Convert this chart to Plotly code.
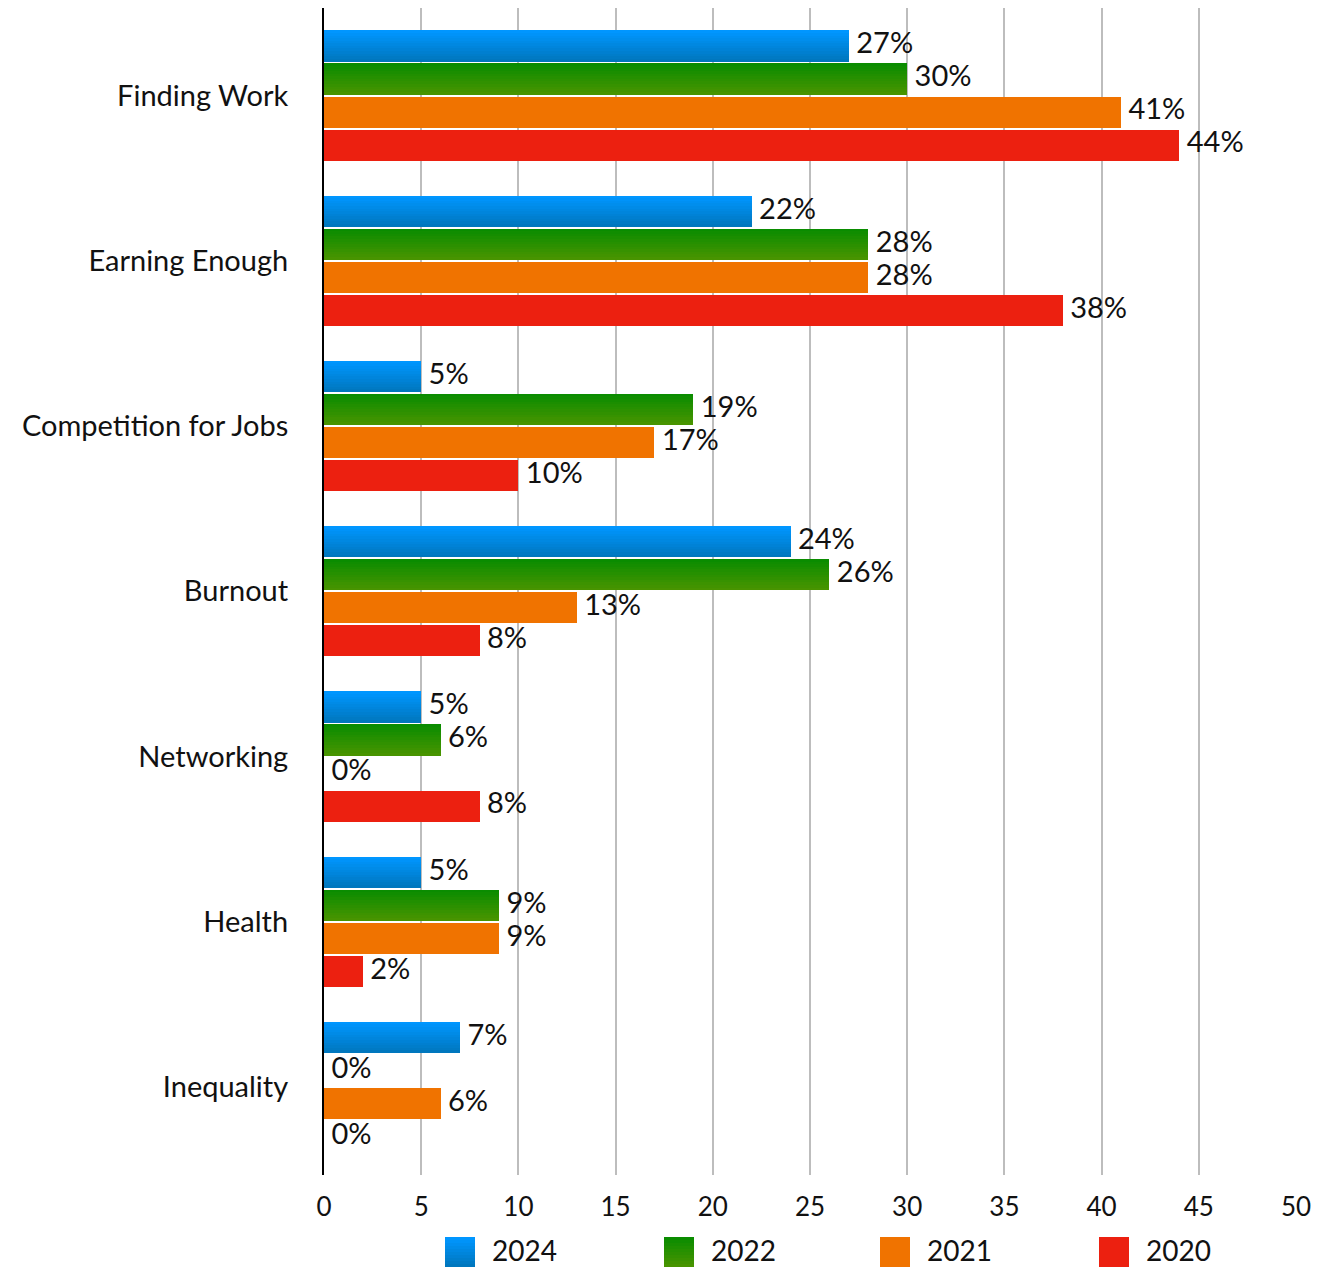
import plotly.graph_objects as go

# Survey data: share of respondents naming each challenge, by survey year
categories = ["Finding Work", "Earning Enough", "Competition for Jobs", "Burnout",
              "Networking", "Health", "Inequality"]
years = ["2024", "2022", "2021", "2020"]
values_2024 = [27, 22, 5, 24, 5, 5, 7]
values_2022 = [30, 28, 19, 26, 6, 9, 0]
values_2021 = [41, 28, 17, 13, 0, 9, 6]
values_2020 = [44, 38, 10, 8, 8, 2, 0]
x_ticks = [0, 5, 10, 15, 20, 25, 30, 35, 40, 45, 50]

series = [values_2024, values_2022, values_2021, values_2020]
# (top colour, bottom colour) for each series; equal pairs give a flat fill
fills = [
    ((0, 150, 255), (0, 119, 190)),
    ((10, 140, 0), (72, 148, 0)),
    ((240, 115, 0), (240, 115, 0)),
    ((236, 32, 16), (236, 32, 16)),
]

FONT = "Lato, 'Noto Sans', sans-serif"
PITCH = 0.1997        # distance between bar centres within a group (category units)
BAR_W = 0.1876        # bar thickness (category units)
SLICES = 12           # horizontal bands used to shade the gradient bars

# plot area in pixels
W, H = 1320, 1268
L, R, T, B = 324, 24, 8, 93
PW, PH = W - L - R, H - T - B


def mix(c0, c1, t):
    return "rgb(%d,%d,%d)" % tuple(round(a + (b - a) * t) for a, b in zip(c0, c1))


fig = go.Figure()
ypos = list(range(len(categories)))

for si, (vals, (top, bot)) in enumerate(zip(series, fills)):
    offset = (si - 1.5) * PITCH
    flat = top == bot
    n = 1 if flat else SLICES
    sw = BAR_W / n
    for k in range(n):
        # k = 0 is the top band (y axis is reversed, so smaller y is higher)
        yc = [y + offset - BAR_W / 2 + sw * (k + 0.5) for y in ypos]
        fig.add_trace(go.Bar(
            x=vals, y=yc, orientation="h",
            width=sw * (1.0 if flat else 1.08),
            marker=dict(color=mix(top, bot, k / max(n - 1, 1)), line=dict(width=0)),
            showlegend=False, hoverinfo="skip",
        ))
    # value labels just past the end of each bar
    fig.add_trace(go.Scatter(
        x=vals, y=[y + offset for y in ypos], mode="text",
        text=[" %d%%" % v for v in vals], textposition="middle right",
        textfont=dict(family=FONT, size=29, color="#111111"),
        cliponaxis=False, showlegend=False, hoverinfo="skip",
    ))

# legend drawn below the axis: gradient swatch + year label
shapes, annotations = [], []
leg_left = [445, 664, 880, 1099]
sw_px, leg_y = 30, 1237
for (top, bot), year, lx in zip(fills, years, leg_left):
    nb = 10
    for k in range(nb):
        y0 = leg_y + sw_px * k / nb
        y1 = leg_y + sw_px * (k + 1) / nb + (0.6 if k < nb - 1 else 0)
        shapes.append(dict(
            type="rect", xref="paper", yref="paper",
            x0=(lx - L) / PW, x1=(lx + sw_px - L) / PW,
            y0=(H - B - y0) / PH, y1=(H - B - y1) / PH,
            fillcolor=mix(top, bot, k / (nb - 1)), line=dict(width=0), layer="above",
        ))
    annotations.append(dict(
        xref="paper", yref="paper", x=(lx + sw_px + 16 - L) / PW,
        y=(H - B - (leg_y + sw_px / 2 - 2)) / PH, text=year, showarrow=False,
        xanchor="left", yanchor="middle", borderpad=0,
        font=dict(family=FONT, size=28, color="#111111"),
    ))

fig.update_layout(
    width=W, height=H, barmode="overlay", bargap=0,
    margin=dict(l=L, r=R, t=T, b=B, pad=0),
    plot_bgcolor="white", paper_bgcolor="white",
    showlegend=False, shapes=shapes, annotations=annotations,
    xaxis=dict(
        range=[0, 50], tickvals=x_ticks, ticktext=[str(v) for v in x_ticks],
        showgrid=True, gridcolor="#bdbdbd", gridwidth=1.5, zeroline=False,
        showline=False, ticks="", ticklabelstandoff=14,
        tickfont=dict(family=FONT, size=26, color="#111111"),
        fixedrange=True,
    ),
    yaxis=dict(
        range=[6 + 88 / 165.25, -87.5 / 165.25],
        tickvals=ypos, ticktext=categories, showgrid=False, zeroline=False,
        showline=True, linecolor="black", linewidth=2, ticks="",
        ticklabelstandoff=28,
        tickfont=dict(family=FONT, size=29, color="#111111"),
    ),
)

fig.write_html("out.html")
